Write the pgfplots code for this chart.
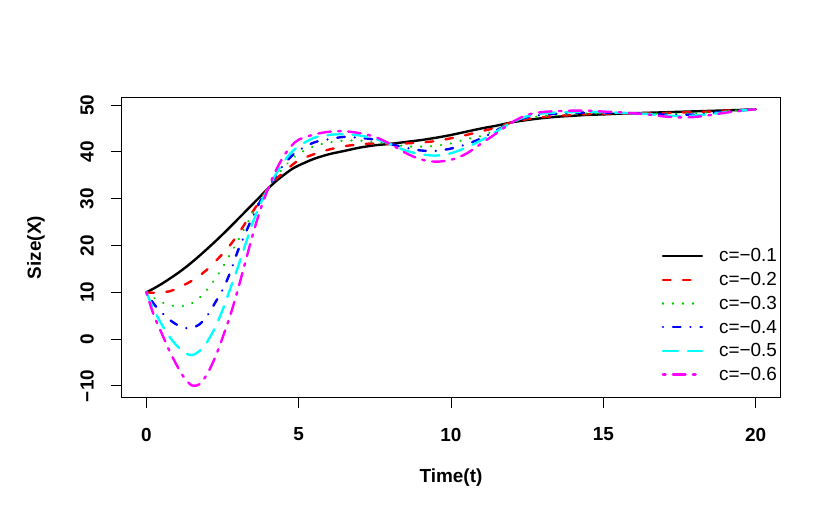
\documentclass[border=0pt]{standalone}
\usepackage{fontspec}
\setmainfont{Liberation Sans}
\usepackage{pgfplots}
\usepackage{pgfplotstable}
\pgfplotsset{compat=1.18}
\definecolor{rblack}{RGB}{0,0,0}
\definecolor{rred}{RGB}{255,0,0}
\definecolor{rgreen}{RGB}{0,205,0}
\definecolor{rblue}{RGB}{0,0,255}
\definecolor{rcyan}{RGB}{0,255,255}
\definecolor{rmagenta}{RGB}{255,0,255}

\pgfplotstableread{
t    a      b      c      d      e      f
0    10     10     10     10     10     10
0.25 10.85  9.9    8.8    7.5    6.2    5.0
0.5  11.8   10.0   7.9    5.7    3.2    1.3
0.75 12.85  10.2   7.3    4.2    0.6    -2.4
1    13.95  10.8   7.05   3.1    -1.4   -5.6
1.25 15.15  11.6   7.1    2.4    -2.9   -8.3
1.5  16.45  12.5   7.7    2.4    -3.4   -9.9
1.75 17.85  13.6   8.9    3.2    -2.5   -9.6
2    19.3   14.9   10.6   5.0    -0.5   -7.4
2.25 20.8   16.5   12.8   7.7    2.4    -4.0
2.5  22.35  18.2   15.3   10.5   6.2    0.3
2.75 23.95  20.1   18.2   14.2   10.7   5.0
3    25.6   22.3   21.0   18.8   15.3   10.5
3.25 27.25  24.8   24.0   22.6   20.2   16.5
3.5  28.9   27.3   27.0   26.3   25.0   22.5
3.75 30.55  29.8   29.8   29.6   29.0   27.8
4    32.2   32.2   32.2   32.2   32.2   32.2
4.25 33.7   34.2   34.6   34.9   35.2   36.0
4.5  35.0   35.5   36.6   37.2   37.8   39.0
4.75 36.2   37.0   38.3   39.0   39.8   41.2
5    37.1   38.2   39.6   40.3   41.2   42.6
5.5  38.5   39.5   41.2   42.0   43.0   43.7
6    39.5   40.5   42.0   42.7   43.6   44.3
6.5  40.2   41.2   42.4   43.2   43.8   44.4
7    40.9   41.6   42.4   43.0   43.5   44.0
7.5  41.4   41.8   42.0   42.6   42.8   43.2
8    41.7   41.7   41.7   41.7   41.7   41.7
8.5  42.1   41.8   41.2   40.9   40.3   39.8
9    42.5   42.0   41.1   40.3   39.5   38.4
9.5  43.0   42.3   41.3   40.2   39.2   37.9
10   43.6   42.9   41.8   40.7   39.7   38.3
10.5 44.3   43.6   42.7   41.6   40.9   39.6
11   45.0   44.4   43.4   42.9   42.5   41.8
11.5 45.6   45.2   44.8   44.6   44.4   44.0
12   46.3   46.3   46.3   46.3   46.3   46.3
12.5 46.8   47.0   47.2   47.4   47.6   47.9
13   47.2   47.4   47.65  47.9   48.2   48.5
13.5 47.5   47.7   47.9   48.15  48.4   48.7
14   47.7   47.85  48.1   48.3   48.5   48.8
14.5 47.9   48.05  48.2   48.4   48.6   48.8
15   48.0   48.1   48.2   48.33  48.45  48.6
15.5 48.15  48.2   48.25  48.32  48.35  48.45
16   48.25  48.25  48.25  48.25  48.25  48.25
16.5 48.35  48.3   48.2   48.13  48.05  47.95
17   48.45  48.3   48.15  47.95  47.75  47.55
17.5 48.55  48.4   48.15  47.89  47.65  47.35
18   48.65  48.5   48.25  47.99  47.75  47.45
18.5 48.75  48.6   48.45  48.25  48.05  47.85
19   48.85  48.8   48.7   48.57  48.45  48.35
19.5 48.95  48.9   48.9   48.84  48.8   48.75
20   49.1   49.1   49.1   49.1   49.1   49.1
}\datatable

\begin{document}
\begin{tikzpicture}
\path[use as bounding box] (-122bp,-123bp) rectangle (708bp,397bp);
\begin{axis}[
  at={(0,0)}, anchor=south west,
  scale only axis, width=658bp, height=299bp,
  xmin=-0.8, xmax=20.8, ymin=-12.35, ymax=51.5,
  axis line style={line width=1bp},
  xtick={0,5,10,15,20}, xticklabels={0,5,10,15,20},
  ytick={-10,0,10,20,30,40,50}, yticklabels={−10,0,10,20,30,40,50},
  xtick pos=bottom, ytick pos=left,
  tick align=outside, major tick length=11bp,
  tick style={line width=1bp, black},
  ticklabel style={font=\fontsize{19}{22}\selectfont\bfseries},
  xticklabel style={anchor=center, yshift=-26.5bp},
  yticklabel style={rotate=90, anchor=center, yshift=24bp},
  xlabel={Time(t)}, ylabel={Size(X)},
  label style={font=\fontsize{19}{22}\selectfont\bfseries},
  xlabel style={at={(axis description cs:0.5,0)}, anchor=center, yshift=-81bp},
  ylabel style={at={(axis description cs:0,0.5)}, anchor=center, yshift=86bp},
  legend style={at={(1,0)}, anchor=south east, xshift=-3bp, yshift=15bp,
    draw=none, fill=none, inner sep=0pt, outer sep=0pt,
    font=\fontsize{19}{22}\selectfont, row sep=9bp,
    nodes={inner xsep=0pt, inner ysep=0pt},
    /tikz/every odd column/.append style={column sep=16bp}},
  legend cell align=left,
  legend image code/.code={\draw[#1] (0bp,0bp) -- (39bp,0bp);},
  every axis plot/.append style={line width=2.4bp, line cap=round, smooth},
]
\addplot[rblack, solid] table[x=t, y=a] {\datatable};
\addlegendentry{c=−0.1}
\addplot[rred, dash pattern=on 7.6bp off 12.4bp] table[x=t, y=b] {\datatable};
\addlegendentry{c=−0.2}
\addplot[rgreen, dash pattern=on 0.1bp off 9.9bp] table[x=t, y=c] {\datatable};
\addlegendentry{c=−0.3}
\addplot[rblue, dash pattern=on 0.1bp off 9.9bp on 7.6bp off 9.9bp] table[x=t, y=d] {\datatable};
\addlegendentry{c=−0.4}
\addplot[rcyan, dash pattern=on 15.1bp off 9.9bp] table[x=t, y=e] {\datatable};
\addlegendentry{c=−0.5}
\addplot[rmagenta, dash pattern=on 2.6bp off 7.4bp on 12.6bp off 7.4bp] table[x=t, y=f] {\datatable};
\addlegendentry{c=−0.6}
\end{axis}
\end{tikzpicture}
\end{document}
